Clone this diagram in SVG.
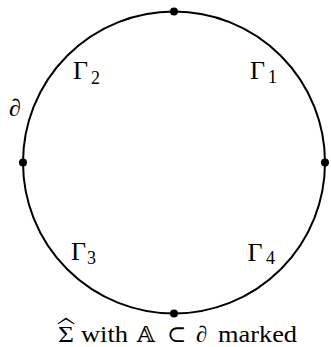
<svg xmlns="http://www.w3.org/2000/svg" width="331" height="347" viewBox="0 0 331 347">
<style>
.t{font-family:"Liberation Serif","DejaVu Serif",serif;fill:#000}
.g{font-size:26px}
.s{font-size:18px}
.c{font-size:23px}
.dot{fill:#000}
</style>
<rect width="331" height="347" fill="#fff"/>
<g id="connectors">
<circle id="boundary" cx="174" cy="162.5" r="151" fill="none" stroke="#000" stroke-width="2"/>
</g>
<g id="p-top"><circle class="dot" cx="174" cy="11.5" r="4"/></g>
<g id="p-bottom"><circle class="dot" cx="174" cy="313.5" r="4"/></g>
<g id="p-left"><circle class="dot" cx="23" cy="162.5" r="4"/></g>
<g id="p-right"><circle class="dot" cx="325" cy="162.5" r="4"/></g>
<g id="gamma1"><text class="t g" x="250" y="79.3">Γ<tspan class="s" x="268" y="83.3">1</tspan></text></g>
<g id="gamma2"><text class="t g" x="73" y="79">Γ<tspan class="s" x="91" y="84">2</tspan></text></g>
<g id="gamma3"><text class="t g" x="71" y="260">Γ<tspan class="s" x="87" y="264.3">3</tspan></text></g>
<g id="gamma4"><text class="t g" x="247.5" y="260.5">Γ<tspan class="s" x="266" y="264.3">4</tspan></text></g>
<g id="partial"><text class="t" font-size="24" x="9" y="116" font-style="italic">∂</text></g>
<g id="caption">
<text class="t c" x="58" y="342" textLength="16" lengthAdjust="spacingAndGlyphs">Σ</text>
<text class="t c" x="81" y="342" textLength="47" lengthAdjust="spacingAndGlyphs">with</text>
<text class="t c" x="137" y="342">𝔸</text>
<text class="t c" x="167" y="342">⊂</text>
<text class="t c" x="196" y="342" font-style="italic">∂</text>
<text class="t c" x="218" y="342" textLength="79" lengthAdjust="spacingAndGlyphs">marked</text>
<path d="M57.5 323.5 L66 317.5 L74.5 323.5 L73.9 324.2 L66 319.6 L58.1 324.2 Z" fill="#000"/>
</g>
</svg>
